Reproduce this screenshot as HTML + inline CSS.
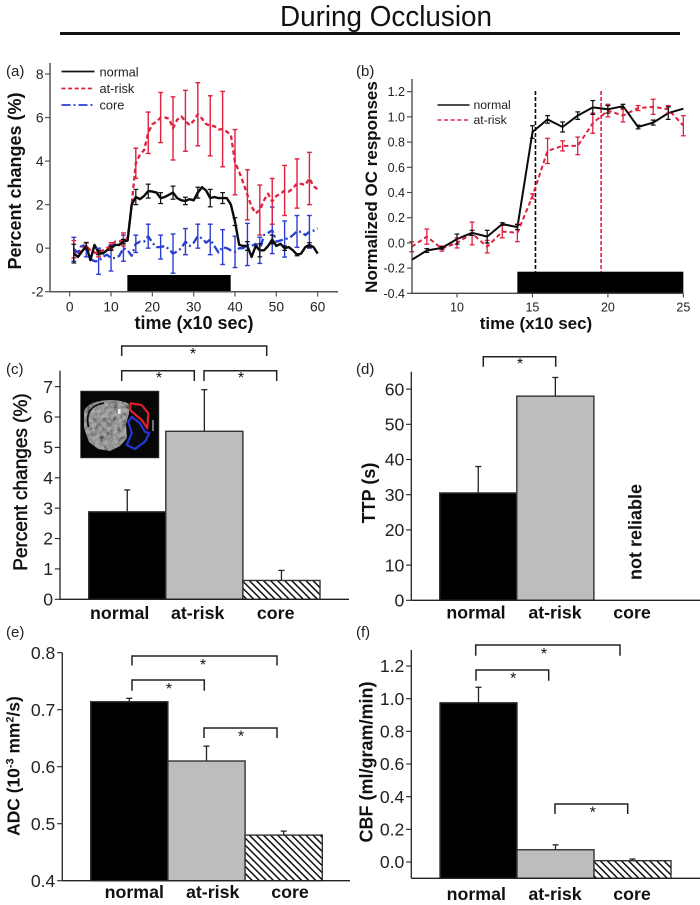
<!DOCTYPE html>
<html lang="en">
<head>
<meta charset="utf-8">
<title>During Occlusion</title>
<style>
html,body{margin:0;padding:0;background:#fff;width:700px;height:905px;overflow:hidden}
svg{display:block;font-family:"Liberation Sans",sans-serif}
.b{font-weight:bold}
</style>
</head>
<body>
<svg id="fig" xmlns="http://www.w3.org/2000/svg" width="700" height="905" viewBox="0 0 700 905">
<defs>
<pattern id="hatch" width="5" height="5" patternUnits="userSpaceOnUse" patternTransform="rotate(-45)">
<rect width="5" height="5" fill="#fff"/>
<rect width="1.5" height="5" fill="#111"/>
</pattern>
<filter id="mottle" x="0" y="0" width="100%" height="100%">
<feTurbulence type="fractalNoise" baseFrequency="0.22" numOctaves="2" seed="4" result="n"/>
<feColorMatrix in="n" type="matrix" values="0 0 0 0 0  0 0 0 0 0  0 0 0 0 0  1.6 0 0 0 -0.55" result="d"/>
<feComposite in="d" in2="SourceAlpha" operator="in" result="spots"/>
<feMerge><feMergeNode in="SourceGraphic"/><feMergeNode in="spots"/></feMerge>
</filter>
</defs>

<text x="386" y="26" font-size="29" text-anchor="middle" textLength="212" lengthAdjust="spacingAndGlyphs" fill="#111">During Occlusion</text>
<line x1="60" y1="33.5" x2="680" y2="33.5" stroke="#111" stroke-width="3"/>

<text x="6" y="76" font-size="15" fill="#222">(a)</text>
<text x="356" y="76" font-size="15" fill="#222">(b)</text>
<text x="6" y="374" font-size="15" fill="#222">(c)</text>
<text x="356" y="374" font-size="15" fill="#222">(d)</text>
<text x="6" y="637" font-size="15" fill="#222">(e)</text>
<text x="356" y="637" font-size="15" fill="#222">(f)</text>

<text class="b" x="194" y="329" font-size="18" text-anchor="middle" fill="#111">time (x10 sec)</text>
<text class="b" transform="translate(21,181) rotate(-90)" font-size="18" text-anchor="middle" fill="#111">Percent changes (%)</text>
<text class="b" x="536" y="329" font-size="17" text-anchor="middle" fill="#111">time (x10 sec)</text>
<text class="b" transform="translate(377,187) rotate(-90)" font-size="17" text-anchor="middle" fill="#111">Normalized OC responses</text>
<text transform="translate(27,482) rotate(-90)" font-size="19" text-anchor="middle" fill="#111" stroke="#111" stroke-width="0.5">Percent changes (%)</text>
<text class="b" transform="translate(375,493) rotate(-90)" font-size="18" text-anchor="middle" fill="#111">TTP (s)</text>
<text class="b" transform="translate(19.5,766) rotate(-90)" font-size="17.4" text-anchor="middle" fill="#111">ADC (10<tspan font-size="11" dy="-6">-3</tspan><tspan dy="6"> mm</tspan><tspan font-size="11" dy="-6">2</tspan><tspan dy="6">/s)</tspan></text>
<text class="b" transform="translate(372.5,762) rotate(-90)" font-size="18" text-anchor="middle" fill="#111">CBF (ml/gram/min)</text>
<text class="b" transform="translate(641.5,532) rotate(-90)" font-size="18" text-anchor="middle" fill="#111">not reliable</text>

<g>
<line x1="61.5" y1="71.5" x2="94.5" y2="71.5" stroke="#111" stroke-width="1.8"/>
<text x="99.5" y="76.5" font-size="12.8" fill="#222">normal</text>
<line x1="61.5" y1="88.5" x2="94.5" y2="88.5" stroke="#e0203f" stroke-width="1.8" stroke-dasharray="4 2.6"/>
<text x="99.5" y="93" font-size="12.8" fill="#222">at-risk</text>
<line x1="61.5" y1="105" x2="94.5" y2="105" stroke="#2a3fd0" stroke-width="1.8" stroke-dasharray="9 3 2 3"/>
<text x="99.5" y="109.5" font-size="12.8" fill="#222">core</text>
</g>
<g>
<line x1="437.5" y1="105" x2="469.5" y2="105" stroke="#111" stroke-width="1.6"/>
<text x="473.5" y="109" font-size="12.2" fill="#222">normal</text>
<line x1="437.5" y1="120" x2="469.5" y2="120" stroke="#e0203f" stroke-width="1.6" stroke-dasharray="4 2.6"/>
<text x="473.5" y="124" font-size="12.2" fill="#222">at-risk</text>
</g>

<g id="marks"></g>

<g>
<rect x="80.5" y="391" width="78.5" height="67" fill="#060606" stroke="#555" stroke-width="0.6"/>
<path filter="url(#mottle)" d="M84 413C85 404 96 401 108 400C116 400 125 401 129 404L129 414L126 424L127 438L120 446L110 451L98 449L89 442L84 428Z" fill="#a8a8a8"/>
<path d="M118 409h2.5v5h-2.5z" fill="#eee"/>
<path d="M88.5 427C85 412 92 405 104 403" fill="none" stroke="#111" stroke-width="1.8"/>
<path d="M153 420L153 431" fill="none" stroke="#999" stroke-width="1.5"/>
<path d="M130 410L130.7 403.3L141.7 405L148.3 413.3L147.3 428.3L141.7 420L135 414.3Z" fill="#0c0c0c" stroke="#e0202c" stroke-width="2.2" stroke-linejoin="round"/>
<path d="M128.3 421.7L131.7 416.7L140 423.3L145 431.7L149.3 433.3L145 441.7L135 449L126.7 445L131.7 433.3Z" fill="#0c0c0c" stroke="#2436d8" stroke-width="2.2" stroke-linejoin="round"/>
</g>
</svg>

<script>
/* Panel (a) time course */
const timeA = [1,2,3,4,5,6,7,8,9,10,11,12,13,14,15,16,17,18,19,20,21,22,23,24,25,26,27,28,29,30,31,32,33,34,35,36,37,38,39,40,41,42,43,44,45,46,47,48,49,50,51,52,53,54,55,56,57,58,59,60];
const normalA = [-0.25,-0.4,-0.15,0.1,-0.55,0.15,-0.2,-0.25,-0.1,0,0.15,0.15,0.3,0.35,2,2.35,2.25,2.4,2.62,2.6,2.55,2.3,2.35,2.45,2.55,2.3,2.2,2.17,2.25,2.2,2.55,2.8,2.65,2.3,2.35,2.3,2.3,2.3,2,1.22,0.15,0.1,0.1,-0.4,0.1,-0.1,-0.1,0.1,0.4,0.1,0.2,0,0.05,-0.1,-0.3,-0.25,0.05,0.15,0.05,-0.25];
const riskA = [-0.05,-0.3,0.1,0.1,-0.1,-0.2,-0.25,-0.1,0,0.1,0.3,0.3,0.4,0.45,2,3.9,4.3,4.5,5.3,5.7,5.8,6,6,5.95,5.5,5.9,6.05,5.85,5.65,5.85,6.15,5.95,5.7,5.62,5.6,5.45,5.47,5.35,5.2,3.95,3.5,3,2.45,1.9,1.6,1.75,2.2,2.5,2.15,2.4,2.5,2.65,2.6,2.75,2.97,2.95,2.9,3.2,2.85,2.7];
const coreA = [-0.05,-0.2,0.2,-0.07,-0.5,-0.6,-0.6,-0.4,-0.3,-0.45,-0.45,-0.35,0,-0.1,-0.35,0.2,0.3,0.3,0.55,0.25,0.05,0.05,0.1,-0.05,-0.25,-0.15,0,0.3,0.1,0.25,0.55,0.45,0.25,0.4,0.1,-0.2,0.05,0,-0.1,-0.17,0,0,0.17,0.1,0.2,-0.1,0.6,0.7,0.82,0.3,0.35,0.42,0.45,0.6,0.77,0.75,0.6,0.75,0.8,0.9];
const errTimeA = [1,4,7,10,13,16,19,22,25,28,31,34,37,40,43,46,49,52,55,58];
const normalErrA = [0.43,0.15,0.1,0.1,0.1,0.35,0.32,0.25,0.3,0.17,0.25,0.4,0.25,0.18,0.2,0.3,0.2,0.1,0.05,0.1];
const riskErrA = [0.4,0.15,0.15,0.15,0.3,0.69,0.95,1.15,1.45,1.4,1.45,1.38,1.73,1.5,1.15,1.15,1.05,1.15,1.13,1.2];
const coreErrA = [0.55,0.33,0.6,0.6,0.6,0.4,0.55,0.55,0.9,0.6,0.55,0.7,0.8,0.72,0.97,0.6,1.07,0.83,0.73,0.75];
const occlusionA = [14,39];
const xTicksA = [0,10,20,30,40,50,60];
const yTicksA = [-2,0,2,4,6,8];

/* Panel (b) normalized response */
const timeB = [7,8,9,10,11,12,13,14,15,16,17,18,19,20,21,22,23,24,25];
const normalB = [-0.135,-0.06,-0.04,0.03,0.08,0.05,0.15,0.125,0.88,0.98,0.92,1.01,1.075,1.06,1.085,0.92,0.955,1.03,1.065];
const normalErrB = [0,0.015,0.01,0.04,0.02,0.05,0.01,0.02,0.05,0.03,0.04,0.03,0.055,0.03,0.015,0.015,0.02,0.05,0];
const riskB = [-0.03,0.05,-0.045,0,0.075,-0.03,0.09,0.08,0.37,0.73,0.77,0.77,0.95,1.05,1.01,1.07,1.08,1.06,0.93];
const riskErrB = [0.04,0.06,0.02,0.04,0.09,0.05,0.05,0.07,0.02,0.1,0.04,0.07,0.08,0.05,0.05,0.02,0.06,0.03,0.08];
const occlusionB = [14,25];
const ttpNormalB = 15.2;
const ttpRiskB = 19.55;
const xTicksB = [10,15,20,25];
const yTicksB = ["-0.4","-0.2","0.0","0.2","0.4","0.6","0.8","1.0","1.2"];

/* Bar panels */
const categories = ["normal","at-risk","core"];
const valuesC = [2.88,5.53,0.62];
const errTopC = [3.6,6.9,0.95];
const yTicksC = ["0","1","2","3","4","5","6","7"];
const valuesD = [30.5,58];
const errTopD = [38,63.3];
const yTicksD = ["0","10","20","30","40","50","60"];
const valuesE = [0.714,0.61,0.48];
const errTopE = [0.72,0.636,0.487];
const yTicksE = ["0.4","0.5","0.6","0.7","0.8"];
const valuesF = [0.975,0.075,0.008];
const errTopF = [1.07,0.105,0.018];
const yTicksF = ["0.0","0.2","0.4","0.6","0.8","1.0","1.2"];

const NS = 'http://www.w3.org/2000/svg';
const root = document.getElementById('marks');
const TXT = '#222', RED = '#e0203f', BLUE = '#2a3fd0', BLK = '#0a0a0a';

function mk(tag, attrs, name, text) {
  const el = document.createElementNS(NS, tag);
  for (const k in attrs) el.setAttribute(k, attrs[k]);
  
  
  if (text !== undefined) el.textContent = text;
  root.appendChild(el);
  return el;
}
function ln(x1, y1, x2, y2, stroke, w, name, dash) {
  const a = {x1, y1, x2, y2, stroke, 'stroke-width': w};
  if (dash) a['stroke-dasharray'] = dash;
  return mk('line', a, name);
}
function series(xs, ys, fx, fy, stroke, w, dash, name) {
  const pts = xs.map((t, i) => fx(t).toFixed(1) + ',' + fy(ys[i]).toFixed(1)).join(' ');
  const a = {points: pts, fill: 'none', stroke, 'stroke-width': w, 'stroke-linejoin': 'round'};
  if (dash) a['stroke-dasharray'] = dash;
  return mk('polyline', a, name);
}
function errBar(x, yLo, yHi, color, w, cap, name) {
  ln(x, yLo, x, yHi, color, w, name + '-stem');
  ln(x - cap, yHi, x + cap, yHi, color, w, name + '-cap-top');
  ln(x - cap, yLo, x + cap, yLo, color, w, name + '-cap-bottom');
}

/* ---- Panel a ---- */
const xA = v => 69.7 + v * 4.133;
const yA = v => 291.7 - (v + 2) * 21.77;
mk('rect', {x: xA(occlusionA[0]) - 0.2, y: 275, width: xA(occlusionA[1]) - xA(occlusionA[0]), height: yA(-2) - 275, fill: '#000'}, 'occlusion-bar-a');
series(timeA, riskA, xA, yA, RED, 2.3, '4.5 3', 'series-at-risk-a');
series(timeA, coreA, xA, yA, BLUE, 2.3, '8 3 2 3', 'series-core-a');
series(timeA, normalA, xA, yA, BLK, 2.4, null, 'series-normal-a');
errTimeA.forEach((t, i) => {
  const idx = timeA.indexOf(t);
  errBar(xA(t), yA(coreA[idx] - coreErrA[i]), yA(coreA[idx] + coreErrA[i]), BLUE, 1.4, 2.4, 'error-core-a-' + t);
  errBar(xA(t), yA(riskA[idx] - riskErrA[i]), yA(riskA[idx] + riskErrA[i]), RED, 1.4, 2.4, 'error-at-risk-a-' + t);
  errBar(xA(t), yA(normalA[idx] - normalErrA[i]), yA(normalA[idx] + normalErrA[i]), BLK, 1.2, 2.4, 'error-normal-a-' + t);
});
ln(50, 63, 50, 292, '#555', 1.5, 'y-axis-a');
ln(50, yA(-2), 338, yA(-2), '#555', 1.5, 'x-axis-a');
xTicksA.forEach(v => {
  ln(xA(v), 292, xA(v), 296.5, '#555', 1.2, 'x-tick-a-' + v);
  mk('text', {x: xA(v), y: 311.5, 'font-size': 13.8, 'text-anchor': 'middle', fill: TXT}, 'x-tick-label-a-' + v, v);
});
yTicksA.forEach(v => {
  ln(45, yA(v), 50, yA(v), '#555', 1.2, 'y-tick-a-' + v);
  mk('text', {x: 43.5, y: yA(v) + 5, 'font-size': 13.8, 'text-anchor': 'end', fill: TXT}, 'y-tick-label-a-' + v, v);
});

/* ---- Panel b ---- */
const xB = v => 457 + (v - 10) * 15.09;
const yB = v => 293.3 - (v + 0.4) * 126;
mk('rect', {x: xB(occlusionB[0]), y: 271.7, width: xB(occlusionB[1]) - xB(occlusionB[0]), height: yB(-0.4) - 271.7, fill: '#000'}, 'occlusion-bar-b');
ln(xB(ttpNormalB), 91, xB(ttpNormalB), 271.7, BLK, 1.6, 'ttp-marker-normal', '4 2');
ln(xB(ttpRiskB), 91, xB(ttpRiskB), 271.7, RED, 1.6, 'ttp-marker-at-risk', '4 2');
series(timeB, riskB, xB, yB, RED, 2, '4.5 3', 'series-at-risk-b');
series(timeB, normalB, xB, yB, BLK, 2, null, 'series-normal-b');
timeB.forEach((t, i) => {
  if (riskErrB[i] > 0) errBar(xB(t), yB(riskB[i] - riskErrB[i]), yB(riskB[i] + riskErrB[i]), RED, 1.3, 2.4, 'error-at-risk-b-' + t);
  if (normalErrB[i] > 0) errBar(xB(t), yB(normalB[i] - normalErrB[i]), yB(normalB[i] + normalErrB[i]), BLK, 1.2, 2.4, 'error-normal-b-' + t);
});
ln(412, 79, 412, 294, '#444', 1.3, 'y-axis-b');
ln(412, yB(-0.4), xB(25), yB(-0.4), '#444', 1.3, 'x-axis-b');
xTicksB.forEach(v => {
  ln(xB(v), 293.5, xB(v), 297.5, '#444', 1.1, 'x-tick-b-' + v);
  mk('text', {x: xB(v), y: 311.5, 'font-size': 12.5, 'text-anchor': 'middle', fill: TXT}, 'x-tick-label-b-' + v, v);
});
yTicksB.forEach(s => {
  const v = parseFloat(s);
  ln(407, yB(v), 412, yB(v), '#444', 1.1, 'y-tick-b-' + s);
  mk('text', {x: 405, y: yB(v) + 4.5, 'font-size': 12.5, 'text-anchor': 'end', fill: TXT}, 'y-tick-label-b-' + s, s);
});

/* ---- Bar panels ---- */
function barPanel(id, cfg, values, errTop, yTicks) {
  const band = i => cfg.x0 + i * cfg.w;
  const fills = ['#000', '#bdbdbd', 'url(#hatch)'];
  values.forEach((v, i) => {
    mk('rect', {x: band(i), y: cfg.y(v), width: cfg.w, height: cfg.baseY - cfg.y(v), fill: fills[i], stroke: '#333', 'stroke-width': 1.4}, 'bar-' + id + '-' + categories[i]);
    const cx = band(i) + cfg.w / 2;
    ln(cx, cfg.y(v), cx, cfg.y(errTop[i]), '#222', 1.3, 'error-stem-' + id + '-' + categories[i]);
    ln(cx - 3, cfg.y(errTop[i]), cx + 3, cfg.y(errTop[i]), '#222', 1.3, 'error-cap-' + id + '-' + categories[i]);
  });
  ln(cfg.axisX, cfg.top, cfg.axisX, cfg.baseY, '#222', 1.3, 'y-axis-' + id);
  ln(cfg.axisX, cfg.baseY, cfg.right, cfg.baseY, '#222', 1.3, 'x-axis-' + id);
  yTicks.forEach(s => {
    const v = parseFloat(s);
    ln(cfg.axisX - 5.2, cfg.y(v), cfg.axisX, cfg.y(v), '#222', 1.1, 'y-tick-' + id + '-' + s);
    mk('text', {x: cfg.axisX - 7, y: cfg.y(v) + 6.2, 'font-size': 17.6, 'text-anchor': 'end', fill: TXT}, 'y-tick-label-' + id + '-' + s, s);
  });
  categories.forEach((c, i) => {
    mk('text', {x: cfg.labelX[i], y: cfg.labelY, 'font-size': 17.8, 'font-weight': 'bold', 'text-anchor': 'middle', fill: '#111'}, 'category-label-' + id + '-' + c, c);
  });
  cfg.brackets.forEach((b, i) => {
    mk('path', {d: 'M' + b[0] + ' ' + b[3] + 'V' + b[2] + 'H' + b[1] + 'V' + b[3], fill: 'none', stroke: '#222', 'stroke-width': 1.5}, 'significance-bracket-' + id + '-' + (i + 1));
    mk('text', {x: b[4], y: b[5] + 6, 'font-size': 16, 'text-anchor': 'middle', fill: '#111'}, 'significance-star-' + id + '-' + (i + 1), '*');
  });
}
barPanel('c', {x0: 88.7, w: 77.1, baseY: 599.3, axisX: 60, top: 370.7, right: 349,
  y: v => 599.3 - v * 30.38, labelX: [119.7, 197.7, 275.7], labelY: 619,
  brackets: [[121.7, 266.7, 346, 356, 193, 353], [121.7, 194.3, 370.7, 381, 159, 377], [204, 276.7, 370.7, 381, 241, 377]]},
  valuesC, errTopC, yTicksC);
barPanel('d', {x0: 439.7, w: 77.1, baseY: 600.3, axisX: 411.3, top: 371.7, right: 700,
  y: v => 600.3 - v * 3.52, labelX: [476, 555, 632], labelY: 618.7,
  brackets: [[483.3, 555.7, 356.7, 366.7, 520, 363]]},
  valuesD, errTopD, yTicksD);
barPanel('e', {x0: 90.7, w: 77.2, baseY: 880.7, axisX: 62.3, top: 652.7, right: 350,
  y: v => 880.7 - (v - 0.4) * 570, labelX: [134.3, 212.7, 290], labelY: 898,
  brackets: [[132, 277, 656, 665.5, 203, 664], [132, 204.3, 680, 690.7, 169, 688], [204, 277, 728, 738, 241, 735.5]]},
  valuesE, errTopE, yTicksE);
barPanel('f', {x0: 440, w: 77, baseY: 878.3, axisX: 411.3, top: 650, right: 700,
  y: v => 862 - v * 163.3, labelX: [476.3, 555, 632], labelY: 900,
  brackets: [[475.7, 620, 645, 655.7, 544, 653], [476, 548.7, 670, 680.7, 513.3, 677.5], [555, 627.7, 804, 814, 592.7, 811.5]]},
  valuesF, errTopF, yTicksF);
</script>
</body>
</html>
